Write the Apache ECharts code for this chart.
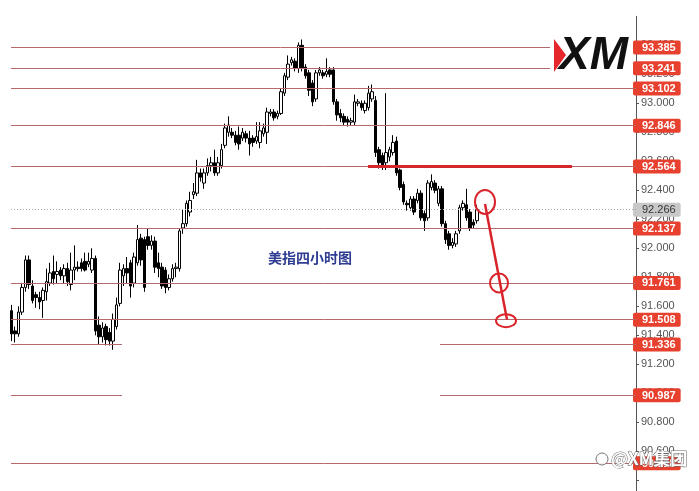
<!DOCTYPE html>
<html><head><meta charset="utf-8">
<script src="https://cdn.jsdelivr.net/npm/echarts@6/dist/echarts.min.js"></script>
<style>html,body{margin:0;padding:0;background:#fff;overflow:hidden}#c{width:699px;height:530px}</style>
</head><body><div id="c"></div>
<script>
// ---- data ----
const opens = [
91.57,91.43,91.41,91.56,91.73,91.92,91.74,91.68,91.66,91.64,
91.70,91.76,91.84,91.82,91.85,91.81,91.86,91.75,91.85,91.87,
91.90,91.91,91.89,91.85,91.93,91.47,91.39,91.46,91.42,91.36,
91.46,91.62,91.81,91.86,91.90,91.76,91.90,92.07,92.06,92.08,
92.02,92.05,91.90,91.87,91.85,91.73,91.79,91.86,91.86,92.14,
92.17,92.25,92.37,92.38,92.52,92.45,92.52,92.57,92.59,92.52,
92.57,92.71,92.80,92.80,92.78,92.78,92.76,92.79,92.76,92.76,
92.74,92.73,92.79,92.80,92.93,92.94,92.91,92.93,93.07,93.18,
93.28,93.29,93.24,93.40,93.25,93.21,93.14,93.03,93.21,93.21,
93.20,93.23,93.23,93.01,92.93,92.91,92.89,92.87,92.87,93.00,
93.00,92.95,92.97,93.03,93.02,92.68,92.64,92.59,92.63,92.66,
92.74,92.54,92.44,92.31,92.28,92.34,92.33,92.38,92.24,92.21,
92.42,92.45,92.31,92.41,92.17,92.10,92.02,92.03,92.12,92.28,
92.30,92.25,92.18,92.19];
const closes = [
91.41,91.41,91.56,91.73,91.92,91.75,91.64,91.66,91.63,91.71,
91.77,91.83,91.79,91.84,91.81,91.86,91.77,91.85,91.87,91.86,
91.86,91.85,91.91,91.93,91.43,91.39,91.45,91.37,91.36,91.51,
91.61,91.85,91.86,91.83,91.74,91.94,92.06,91.92,91.73,92.02,
92.05,91.87,91.86,91.74,91.73,91.79,91.86,91.87,92.12,92.17,
92.31,92.33,92.39,92.52,92.49,92.52,92.57,92.59,92.52,92.59,
92.68,92.83,92.85,92.78,92.73,92.72,92.80,92.76,92.72,92.73,
92.77,92.81,92.83,92.94,92.94,92.90,92.93,93.08,93.19,93.27,
93.30,93.24,93.40,93.24,93.19,93.09,93.01,93.21,93.23,93.19,
93.22,93.20,93.01,92.92,92.90,92.87,92.87,92.88,93.01,93.01,
92.97,93.00,93.07,93.08,92.66,92.59,92.57,92.66,92.68,92.73,
92.52,92.42,92.32,92.30,92.34,92.25,92.38,92.21,92.19,92.45,
92.46,92.40,92.41,92.17,92.06,92.02,92.04,92.10,92.28,92.31,
92.21,92.14,92.16,92.266];
const lows = [
91.36,91.35,91.39,91.54,91.70,91.72,91.62,91.59,91.58,91.52,
91.64,91.74,91.75,91.76,91.78,91.76,91.74,91.71,91.78,91.84,
91.84,91.84,91.87,91.83,91.40,91.34,91.35,91.33,91.33,91.30,
91.44,91.60,91.74,91.76,91.66,91.73,91.88,91.88,91.70,91.99,
91.99,91.83,91.80,91.72,91.69,91.71,91.77,91.80,91.84,92.10,
92.15,92.22,92.34,92.36,92.46,92.41,92.50,92.53,92.50,92.50,
92.55,92.69,92.77,92.76,92.71,92.68,92.74,92.73,92.64,92.70,
92.72,92.69,92.77,92.72,92.91,92.88,92.89,92.92,93.05,93.16,
93.26,93.22,93.21,93.22,93.17,93.05,92.98,93.01,93.19,93.17,
93.18,93.18,92.99,92.88,92.87,92.85,92.84,92.85,92.85,92.98,
92.95,92.93,92.95,93.01,92.63,92.55,92.54,92.54,92.60,92.64,
92.50,92.40,92.30,92.26,92.26,92.23,92.31,92.19,92.12,92.19,
92.40,92.38,92.29,92.15,92.03,91.99,92.00,92.01,92.10,92.26,
92.19,92.12,92.14,92.17];
const highs = [
91.61,91.46,91.60,91.76,91.95,91.95,91.78,91.70,91.70,91.73,
91.86,91.90,91.95,91.91,91.87,91.89,91.90,91.97,92.02,91.91,
91.93,91.97,91.97,92.00,91.95,91.53,91.49,91.48,91.45,91.55,
91.66,91.90,91.89,91.94,91.92,91.97,92.16,92.10,92.08,92.14,
92.09,92.08,91.97,91.90,91.87,91.82,91.89,91.90,92.14,92.27,
92.33,92.39,92.45,92.61,92.55,92.55,92.62,92.63,92.68,92.63,
92.72,92.86,92.91,92.83,92.81,92.84,92.83,92.81,92.81,92.78,
92.87,92.87,92.86,92.97,92.96,92.96,92.95,93.10,93.21,93.33,
93.32,93.31,93.42,93.44,93.27,93.23,93.16,93.23,93.25,93.23,
93.31,93.25,93.25,93.03,92.96,92.93,92.91,92.90,93.06,93.03,
93.02,93.02,93.12,93.13,93.05,92.70,92.66,93.07,92.70,92.78,
92.77,92.55,92.46,92.33,92.36,92.36,92.41,92.40,92.26,92.47,
92.51,92.47,92.43,92.43,92.19,92.12,92.07,92.12,92.30,92.33,
92.41,92.27,92.20,92.30];
const levels = [93.385, 93.241, 93.102, 92.846, 92.564, 92.137, 91.761, 91.508, 91.336, 90.987, 90.518];
const lastPrice = 92.266;
const chartTitle = '美指四小时图';
const watermark = '@XM集团';

// ---- layout ----
const totalSlots = 179;
const categories = [];
for (let i = 0; i < totalSlots; i++) categories.push('k' + i);
const RED = '#e8402e';
const LINE = '#b46a6a';
const AX_R = 636;
// horizontal extents (px) for each level, in the order of `levels`
const extents = [
  [[11, 550]], [[11, 550]], [[11, AX_R]], [[11, AX_R]], [[11, AX_R]], [[11, AX_R]],
  [[11, AX_R]], [[11, AX_R]], [[11, 122], [440, AX_R]], [[11, 122], [440, AX_R]], [[11, AX_R]]
];

const mlData = [];
levels.forEach((v, i) => {
  extents[i].forEach(e => {
    mlData.push([{ x: e[0], yAxis: v, lineStyle: { color: LINE, width: 1, type: 'solid' } }, { x: e[1], yAxis: v }]);
  });
});
mlData.push([{ x: 11, yAxis: lastPrice, lineStyle: { color: '#aaa', width: 1, type: [1, 2] } }, { x: AX_R, yAxis: lastPrice }]);
mlData.push([{ x: 368, yAxis: levels[4], lineStyle: { color: '#d5262a', width: 3, type: 'solid' } }, { x: 572, yAxis: levels[4] }]);

const kData = opens.map((o, i) => [o, closes[i], lows[i], highs[i]]);

const chart = echarts.init(document.getElementById('c'), null, { renderer: 'canvas', width: 699, height: 530 });
const option = {
  animation: false,
  backgroundColor: '#ffffff',
  grid: { left: 10, width: AX_R - 10, top: 16.3, height: 493, containLabel: false },
  xAxis: {
    type: 'category', data: categories, boundaryGap: true,
    axisLine: { show: false }, axisTick: { show: false }, axisLabel: { show: false }, splitLine: { show: false }
  },
  yAxis: [{
    type: 'value', position: 'right', min: 90.2, max: 93.6, interval: 0.2,
    axisLine: { show: true, lineStyle: { color: '#555', width: 1 } },
    axisTick: { show: true, length: 3, lineStyle: { color: '#555' } },
    axisLabel: { color: '#555', fontSize: 11, margin: 5, fontFamily: 'Liberation Sans, Arial, sans-serif',
      showMaxLabel: false, showMinLabel: false, formatter: v => (v < 90.5 ? '' : v.toFixed(3)) },
    splitLine: { show: false }
  }, {
    type: 'value', position: 'right', min: 90.2, max: 93.6,
    axisLine: { show: false }, axisTick: { show: false }, splitLine: { show: false },
    axisLabel: {
      customValues: levels.concat([lastPrice]),
      margin: -3,
      formatter: v => (Math.abs(v - lastPrice) < 1e-6 ? '{g|' : '{r|') + v.toFixed(3) + '}',
      rich: {
        r: { backgroundColor: RED, color: '#fff', fontWeight: 'bold', fontSize: 11, lineHeight: 12,
             padding: [2, 5, 1, 9], borderRadius: 2, fontFamily: 'Liberation Sans, Arial, sans-serif' },
        g: { backgroundColor: '#c8c8c8', color: '#333', fontSize: 11, lineHeight: 12,
             padding: [2, 5, 1, 9], borderRadius: 2, fontFamily: 'Liberation Sans, Arial, sans-serif' }
      }
    }
  }],
  series: [{
    type: 'candlestick', data: kData, barWidth: 3,
    itemStyle: { color: '#ffffff', color0: '#000000', borderColor: '#000000', borderColor0: '#000000', borderWidth: 1 }
  }, {
    type: 'line', data: [], silent: true, symbol: 'none',
    markLine: { silent: true, symbol: ['none', 'none'], label: { show: false }, animation: false, data: mlData }
  }]
};
chart.setOption(option);

const py = v => chart.convertToPixel({ yAxisIndex: 0 }, v);
const yTop = py(92.32), y2 = py(levels[6]), y3 = py(levels[7]);
chart.setOption({
  graphic: [
    { type: 'polygon', shape: { points: [[554, 39], [566, 55], [554, 72]] }, style: { fill: '#e5262b' }, z: 10 },
    { type: 'text', x: 559, y: 56, style: { text: 'XM', fill: '#111', font: 'italic 900 46px "Liberation Sans", Arial, sans-serif',
        verticalAlign: 'middle', align: 'left' }, z: 10 },
    { type: 'text', x: 310, y: 258, style: { text: chartTitle, fill: '#2e3c92', font: 'bold 14px "Noto Sans CJK SC"',
        align: 'center', verticalAlign: 'middle' }, z: 10 },
    { type: 'ellipse', shape: { cx: 485, cy: yTop, rx: 10, ry: 12 }, style: { fill: 'none', stroke: '#d9232a', lineWidth: 2 }, z: 12 },
    { type: 'line', shape: { x1: 485, y1: yTop + 2, x2: 507, y2: y3 }, style: { stroke: '#d9232a', lineWidth: 2.5 }, z: 12 },
    { type: 'ellipse', shape: { cx: 499, cy: y2, rx: 9, ry: 9.5 }, style: { fill: 'none', stroke: '#d9232a', lineWidth: 2 }, z: 12 },
    { type: 'ellipse', shape: { cx: 506, cy: y3 + 1, rx: 10, ry: 6.5 }, style: { fill: 'none', stroke: '#d9232a', lineWidth: 2 }, z: 12 },
    { type: 'circle', shape: { cx: 602, cy: 459, r: 6 }, style: { fill: 'rgba(255,255,255,0.9)', stroke: '#777', lineWidth: 1 }, z: 20 },
    { type: 'text', x: 611, y: 459, style: { text: watermark, fill: '#fff', stroke: '#666', lineWidth: 1,
        font: 'bold 17px "Noto Sans CJK SC"', verticalAlign: 'middle', align: 'left' }, z: 20 }
  ]
});
</script></body></html>
